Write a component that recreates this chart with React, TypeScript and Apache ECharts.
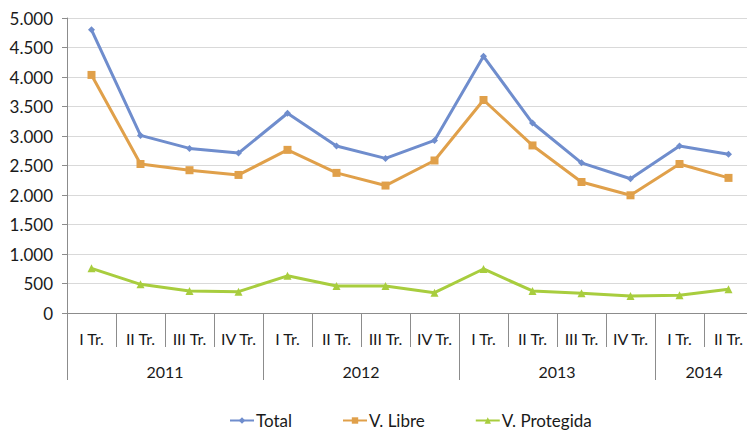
import React, { useEffect, useRef } from "react";
import * as echarts from "echarts";

const quarters = [
  "I Tr.", "II Tr.", "III Tr.", "IV Tr.",
  "I Tr.", "II Tr.", "III Tr.", "IV Tr.",
  "I Tr.", "II Tr.", "III Tr.", "IV Tr.",
  "I Tr.", "II Tr.",
];
const years = ["2011", "2012", "2013", "2014"];
const quartersPerYear = [4, 4, 4, 2];

const totalValues = [4800, 3010, 2790, 2710, 3385, 2830, 2620, 2925, 4350, 3220, 2545, 2275, 2830, 2690];
const libreValues = [4035, 2525, 2420, 2340, 2765, 2375, 2160, 2585, 3610, 2840, 2220, 1995, 2525, 2290];
const protegidaValues = [757, 486, 373, 362, 630, 458, 458, 345, 746, 373, 333, 288, 300, 401];

const yTicks = { min: 0, max: 5000, interval: 500 };

const FONT = "Lato, 'Open Sans', sans-serif";
const TEXT = "#1a1a1a";
const AXIS = "#8c8c8c";

export default function App() {
  const ref = useRef<HTMLDivElement>(null);

  useEffect(() => {
    document.body.style.margin = "0";
    if (!ref.current) return;
    const chart = echarts.init(ref.current, undefined, { renderer: "svg" });

    const starts: number[] = [];
    const centers: Record<number, string> = {};
    let acc = 0;
    quartersPerYear.forEach((n, i) => {
      starts.push(acc);
      centers[acc + n / 2] = years[i];
      acc += n;
    });

    const fmt = (v: number) =>
      v.toString().replace(/\B(?=(\d{3})+(?!\d))/g, ".");

    chart.setOption({
      animation: false,
      textStyle: { fontFamily: FONT },
      grid: {
        left: 67,
        top: 18,
        width: 686,
        height: 295,
        containLabel: false,
        outerBoundsMode: "none",
      },
      legend: {
        top: 412,
        left: 229,
        padding: 0,
        itemGap: 50,
        itemWidth: 24,
        itemHeight: 8,
        textStyle: { fontFamily: FONT, fontSize: 17, color: TEXT, padding: [0, 0, 0, -3] },
        data: ["Total", "V. Libre", "V. Protegida"],
      },
      xAxis: [
        {
          type: "category",
          data: quarters,
          boundaryGap: true,
          position: "bottom",
          axisLine: { show: true, lineStyle: { color: AXIS, width: 1 } },
          axisTick: { show: true, interval: 0, length: 34, lineStyle: { color: AXIS } },
          axisLabel: { interval: 0, margin: 17, fontSize: 16, color: TEXT, fontFamily: FONT },
          splitLine: { show: false },
        },
        {
          type: "category",
          data: quarters.map((_, i) => String(i)),
          boundaryGap: true,
          position: "bottom",
          axisLine: { show: false },
          axisTick: {
            show: true,
            length: 67,
            interval: (index: number) => starts.indexOf(index) >= 0,
            lineStyle: { color: AXIS },
          },
          axisLabel: { show: false },
          splitLine: { show: false },
        },
        {
          type: "value",
          min: 0,
          max: quarters.length,
          interval: 1,
          position: "bottom",
          axisLine: { show: false },
          axisTick: { show: false },
          splitLine: { show: false },
          axisLabel: {
            margin: 50,
            fontSize: 16,
            color: TEXT,
            fontFamily: FONT,
            formatter: (v: number) => centers[v] || "",
          },
        },
      ],
      yAxis: {
        type: "value",
        min: yTicks.min,
        max: yTicks.max,
        interval: yTicks.interval,
        axisLine: { show: true, lineStyle: { color: AXIS } },
        axisTick: { show: true, length: 5, lineStyle: { color: AXIS } },
        axisLabel: { margin: 14, fontSize: 17, color: TEXT, fontFamily: FONT, formatter: fmt },
        splitLine: { show: true, lineStyle: { color: "#d9d9d9", width: 1 } },
      },
      series: [
        {
          name: "Total",
          type: "line",
          data: totalValues,
          color: "#6f8dcd",
          lineStyle: { width: 3 },
          symbol: "diamond",
          symbolSize: 7,
        },
        {
          name: "V. Libre",
          type: "line",
          data: libreValues,
          color: "#e0a04a",
          lineStyle: { width: 3 },
          symbol: "rect",
          symbolSize: 8,
        },
        {
          name: "V. Protegida",
          type: "line",
          data: protegidaValues,
          color: "#a8cd3e",
          lineStyle: { width: 3 },
          symbol: "triangle",
          symbolSize: 8,
        },
      ],
    });

    return () => chart.dispose();
  }, []);

  return <div ref={ref} style={{ width: 747, height: 431 }} />;
}
